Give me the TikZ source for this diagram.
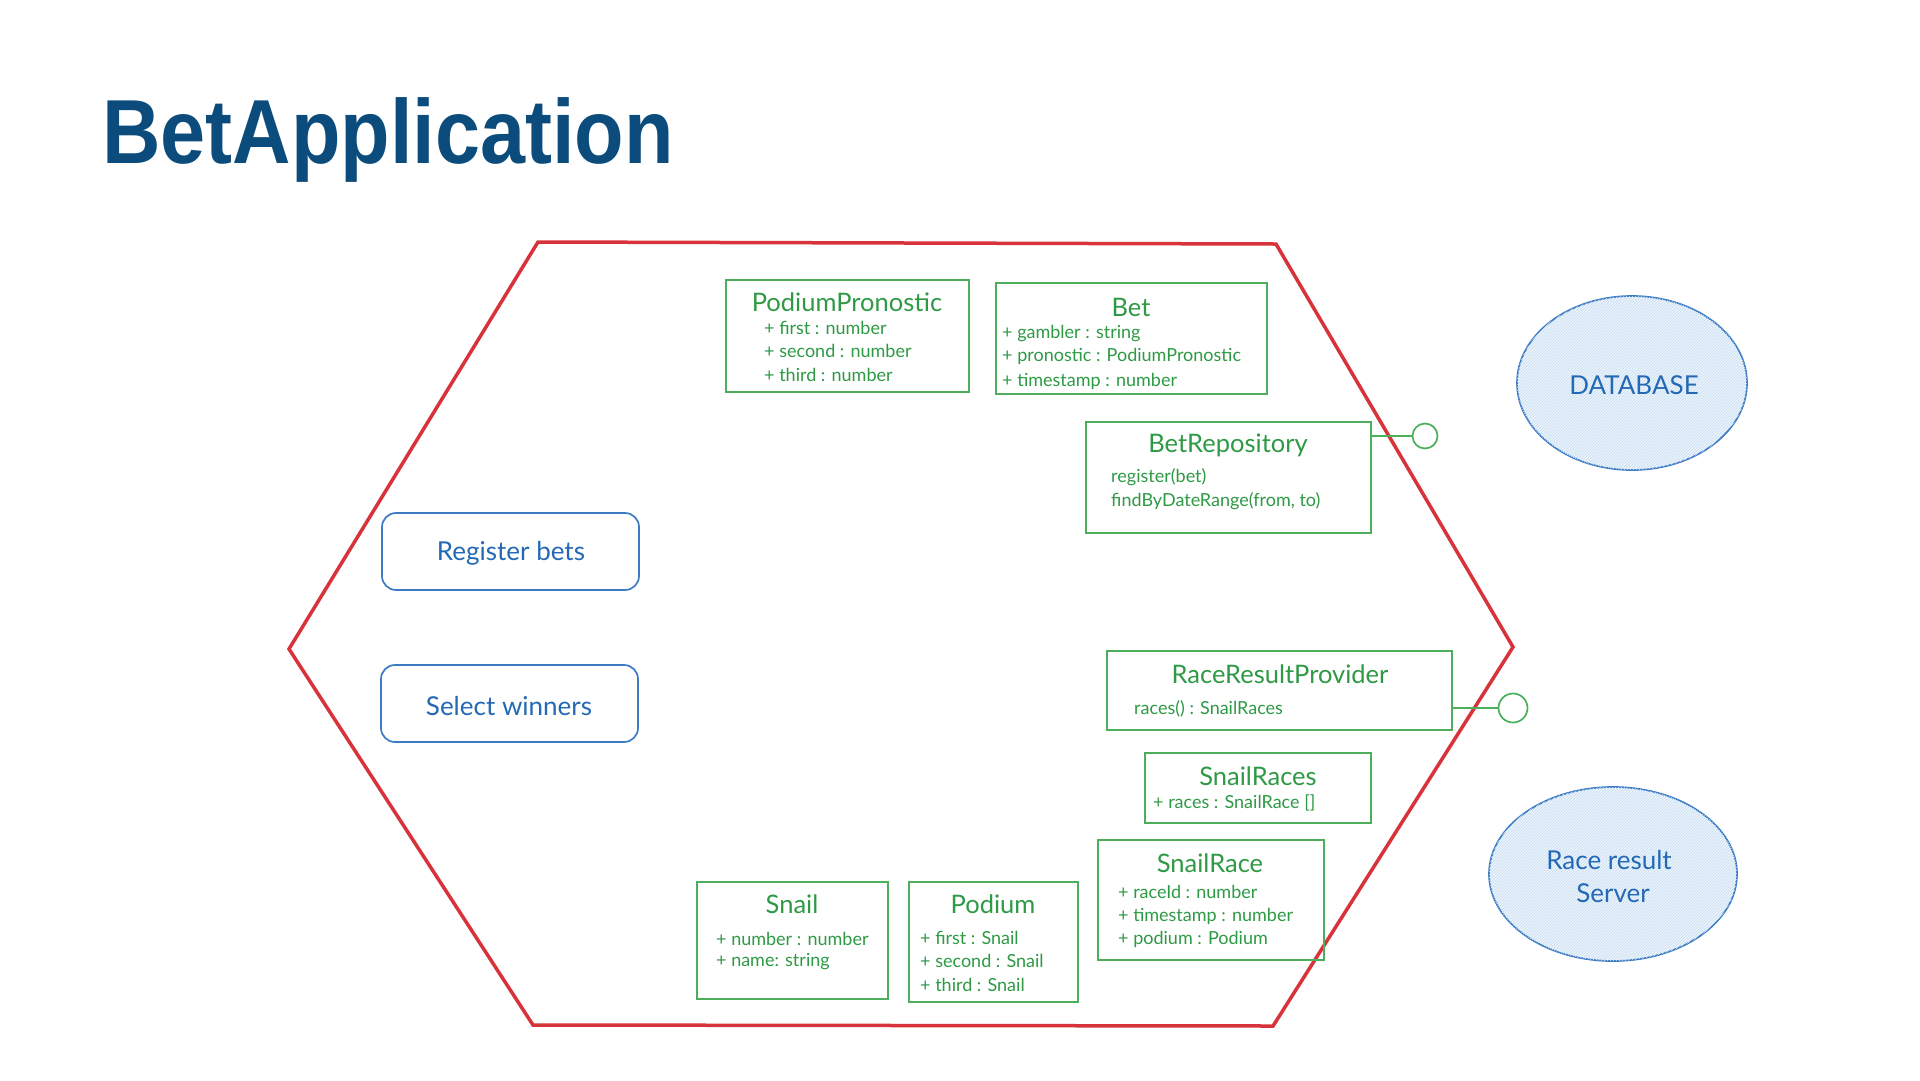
\documentclass[tikz,border=0pt]{standalone}
\usepackage{fontspec}
\setmainfont{Lato}
\newfontfamily\titlefont{Liberation Sans}
\usetikzlibrary{patterns,shapes.geometric}
\definecolor{titleblue}{HTML}{0B4C7D}
\definecolor{hexred}{HTML}{D8333A}
\definecolor{umlgreen}{HTML}{4DAE5B}
\definecolor{umltext}{HTML}{2E9A45}
\definecolor{ucblue}{HTML}{3D7CC4}
\definecolor{uctext}{HTML}{2369B5}
\definecolor{dbfill}{HTML}{EDF5FC}
\definecolor{dbhatch}{HTML}{C4DBF1}
\tikzset{
  umlbox/.style={draw=umlgreen, line width=1.7pt, anchor=north west, inner sep=0pt, outer sep=0pt},
  umltitle/.style={text=umltext, font=\fontsize{25.5}{30}\selectfont, inner sep=0pt, yshift=-2pt},
  umlattr/.style={text=umltext, font=\fontsize{18}{22}\selectfont, anchor=west, inner sep=0pt, yshift=-1.5pt},
  usecase/.style={draw=ucblue, line width=1.7pt, rounded corners=14pt, anchor=north west, inner sep=0pt, outer sep=0pt},
  uclabel/.style={text=uctext, font=\fontsize{26}{30}\selectfont, inner sep=0pt, yshift=-2pt},
  actor/.style={ellipse, draw=ucblue, line width=1.7pt, fill=dbfill, postaction={pattern=north east lines, pattern color=dbhatch}, inner sep=0pt},
  lolly/.style={circle, draw=umlgreen, line width=1.7pt, fill=white, inner sep=0pt},
  lollyline/.style={draw=umlgreen, line width=1.7pt},
}
\begin{document}
\begin{tikzpicture}[x=1pt,y=-1pt]
\useasboundingbox[fill=white] (0,0) rectangle (1920,1080);

% title
\node[anchor=base west, inner sep=0pt, text=titleblue] (title) at (102,163)
  {\scalebox{0.89}[1]{\titlefont\bfseries\fontsize{91}{100}\selectfont BetApplication}};

% hexagon
\coordinate (h1) at (538,242);
\coordinate (h2) at (1276,244);
\coordinate (h3) at (1513,647);
\coordinate (h4) at (1273,1026);
\coordinate (h5) at (533,1025);
\coordinate (h6) at (289,649);
\draw[hexred, line width=3.5pt, line join=miter] (h1) -- (h2) -- (h3) -- (h4) -- (h5) -- (h6) -- cycle;

% use cases
\node[usecase, minimum width=257pt, minimum height=77pt] (reg) at (382,513) {};
\node[uclabel] (regt) at (511,551) {Register bets};
\node[usecase, minimum width=257pt, minimum height=77pt] (sel) at (381,665) {};
\node[uclabel] (selt) at (509,704) {Select winners};

% actors
\node[actor, minimum width=230pt, minimum height=174pt] (db) at (1632,383) {};
\node[uclabel] (dbt) at (1634,383) {DATABASE};
\node[actor, minimum width=248pt, minimum height=174pt] (srv) at (1613,874) {};
\node[uclabel] (srvt1) at (1609,858) {Race result};
\node[uclabel] (srvt2) at (1613,891) {Server};

% PodiumPronostic
\node[umlbox, minimum width=243pt, minimum height=112pt] (pp) at (726,280) {};
\node[umltitle] (ppt) at (847,300) {PodiumPronostic};
\node[umlattr] (pp1) at (764,326) {+ first : number};
\node[umlattr] (pp2) at (764,349) {+ second : number};
\node[umlattr] (pp3) at (764,373) {+ third : number};

% Bet
\node[umlbox, minimum width=271pt, minimum height=111pt] (bet) at (996,283) {};
\node[umltitle] (bett) at (1131,305) {Bet};
\node[umlattr] (bet1) at (1002,332) {+ gambler : string};
\node[umlattr] (bet2) at (1002,355) {+ pronostic : PodiumPronostic};
\node[umlattr] (bet3) at (1002,380) {+ timestamp : number};

% BetRepository
\node[umlbox, minimum width=285pt, minimum height=111pt] (brep) at (1086,422) {};
\node[umltitle] (brept) at (1228,443) {BetRepository};
\node[umlattr] (brep1) at (1111,476) {register(bet)};
\node[umlattr] (brep2) at (1111,500) {findByDateRange(from, to)};
\node[lolly, minimum size=25pt] (lp1) at (1425,436) {};
\draw[lollyline] (brep.east |- lp1) -- (lp1.west);

% RaceResultProvider
\node[umlbox, minimum width=345pt, minimum height=79pt] (rrp) at (1107,651) {};
\node[umltitle] (rrpt) at (1280,672) {RaceResultProvider};
\node[umlattr] (rrp1) at (1134,707) {races() : SnailRaces};
\node[lolly, minimum size=29pt] (lp2) at (1513,708) {};
\draw[lollyline] (rrp.east |- lp2) -- (lp2.west);

% SnailRaces
\node[umlbox, minimum width=226pt, minimum height=70pt] (srs) at (1145,753) {};
\node[umltitle] (srst) at (1258,774) {SnailRaces};
\node[umlattr] (srs1) at (1153,801) {+ races : SnailRace []};

% SnailRace
\node[umlbox, minimum width=226pt, minimum height=120pt] (sr) at (1098,840) {};
\node[umltitle] (srt) at (1210,861) {SnailRace};
\node[umlattr] (sr1) at (1118,890) {+ raceId : number};
\node[umlattr] (sr2) at (1118,915) {+ timestamp : number};
\node[umlattr] (sr3) at (1118,938) {+ podium : Podium};

% Snail
\node[umlbox, minimum width=191pt, minimum height=117pt] (sn) at (697,882) {};
\node[umltitle] (snt) at (792,902) {Snail};
\node[umlattr] (sn1) at (716,937) {+ number : number};
\node[umlattr] (sn2) at (716,960) {+ name: string};

% Podium
\node[umlbox, minimum width=169pt, minimum height=120pt] (pod) at (909,882) {};
\node[umltitle] (podt) at (993,902) {Podium};
\node[umlattr] (pod1) at (920,936) {+ first : Snail};
\node[umlattr] (pod2) at (920,959) {+ second : Snail};
\node[umlattr] (pod3) at (920,983) {+ third : Snail};
\end{tikzpicture}
\end{document}
